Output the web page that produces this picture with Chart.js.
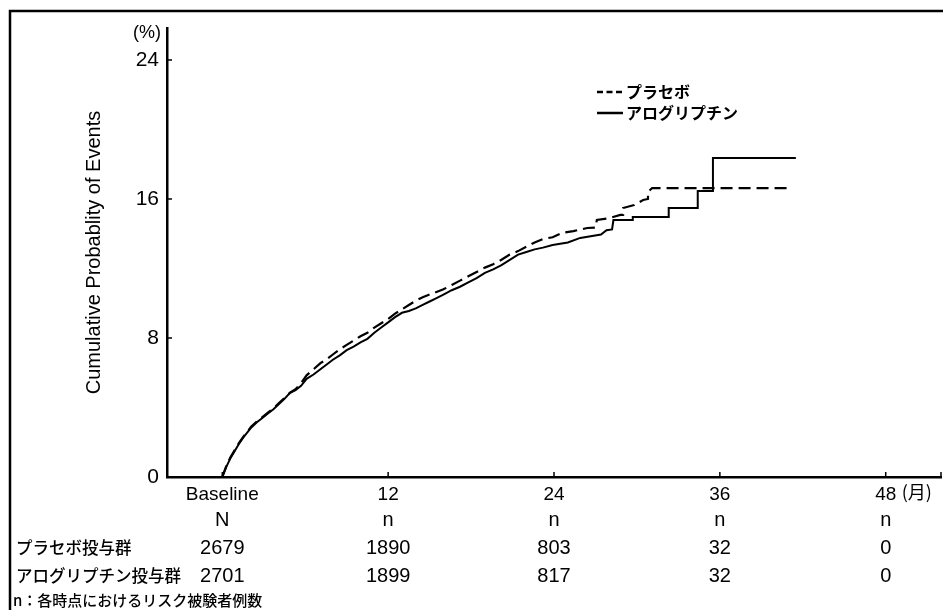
<!DOCTYPE html>
<html><head><meta charset="utf-8">
<script src="https://cdn.jsdelivr.net/npm/chart.js@4.4.1/dist/chart.umd.min.js"></script>
<style>html,body{margin:0;padding:0;background:#fff}#wrap{width:943px;height:610px;position:relative}</style>
</head><body><div id="wrap"><canvas id="c" width="943" height="610"></canvas></div>
<script>
// ---- data (months, cumulative %) ----
// vertical steps in the later part are listed as two points with the same month
const placeboMonths = [0,0.3,0.6,0.9,1.2,1.5,1.8,2.1,2.5,2.9,3.3,3.7,4.1,4.5,4.9,5.3,5.7,6.1,6.6,7.1,7.6,8.0,8.5,9.0,9.5,10.0,10.5,11.0,11.5,12.0,12.5,13.0,13.5,14.0,14.5,15.0,15.5,16.0,16.6,17.2,17.8,18.4,19.0,19.6,20.2,20.8,21.4,22.0,22.6,23.2,23.9,24.6,25.4,26.4,27.0,27.1,28.0,28.8,29.0,29.0,29.8,30.45,30.8,30.8,31.1,40.9];
const placeboValues = [0,0.65,1.15,1.55,1.95,2.3,2.6,2.9,3.2,3.45,3.7,3.95,4.25,4.55,4.85,5.05,5.4,5.85,6.2,6.55,6.8,7.05,7.35,7.6,7.85,8.1,8.3,8.6,8.85,9.1,9.4,9.65,9.9,10.15,10.35,10.5,10.65,10.8,11.05,11.3,11.55,11.8,12.05,12.25,12.5,12.8,13.0,13.25,13.5,13.7,13.8,14.05,14.15,14.33,14.35,14.79,14.9,15.08,15.08,15.48,15.65,15.94,16.0,16.4,16.63,16.63];
const alogMonths = [0,0.3,0.6,0.9,1.2,1.5,1.8,2.1,2.5,2.9,3.3,3.7,4.1,4.5,4.9,5.3,5.7,6.1,6.6,7.1,7.6,8.0,8.5,9.0,9.5,10.0,10.5,11.0,11.5,12.0,12.5,13.0,13.5,14.0,14.5,15.0,15.5,16.0,16.6,17.2,17.8,18.4,19.0,19.6,20.2,20.8,21.4,22.0,22.6,23.2,23.9,25.0,25.9,27.4,27.8,28.2,28.3,29.7,29.7,32.3,32.3,34.4,34.4,35.5,35.5,41.5];
const alogValues = [0,0.6,1.1,1.5,1.9,2.25,2.55,2.85,3.15,3.4,3.65,3.9,4.2,4.5,4.85,5.0,5.25,5.65,5.9,6.2,6.5,6.75,7.0,7.3,7.5,7.75,7.95,8.3,8.6,8.9,9.2,9.45,9.55,9.7,9.9,10.1,10.3,10.5,10.75,10.95,11.2,11.45,11.75,11.95,12.2,12.5,12.8,12.95,13.1,13.2,13.35,13.5,13.76,13.95,14.2,14.25,14.79,14.79,14.96,14.96,15.48,15.48,16.46,16.46,18.36,18.36];
const seriesNames = ['プラセボ','アログリプチン'];
const xTickValues = [0,12,24,36,48];
const xTickLabels = ['Baseline','12','24','36','48'];
const yTickValues = [0,8,16,24];
const yTitle = 'Cumulative Probablity of Events';
const tableHeader = ['N','n','n','n','n'];
const tableRowLabels = ['プラセボ投与群','アログリプチン投与群'];
const placeboAtRisk = [2679,1890,803,32,0];
const alogAtRisk = [2701,1899,817,32,0];
const footnote = 'n：各時点におけるリスク被験者例数';

const LAT = '"Liberation Sans", Arial, Helvetica, sans-serif';
const JP = '"Noto Sans CJK JP", "Noto Sans", sans-serif';

const toXY = (xs, ys) => xs.map((x, i) => ({x, y: ys[i]}));

const extras = {
  id: 'extras',
  afterDraw(chart) {
    const ctx = chart.ctx;
    const xs = chart.scales.x, ys = chart.scales.y;
    const area = chart.chartArea;
    ctx.save();
    // frame
    ctx.strokeStyle = '#000'; ctx.lineWidth = 2.5;
    ctx.beginPath(); ctx.moveTo(10, 610); ctx.lineTo(10, 11); ctx.lineTo(943, 11); ctx.stroke();
    // inward tick marks
    ctx.lineWidth = 1.5;
    yTickValues.forEach(v => { if (v === 0) return; const py = ys.getPixelForValue(v); ctx.beginPath(); ctx.moveTo(area.left, py); ctx.lineTo(area.left + 5, py); ctx.stroke(); });
    xTickValues.concat([xs.max]).forEach(v => { const px = xs.getPixelForValue(v); ctx.beginPath(); ctx.moveTo(px, area.bottom); ctx.lineTo(px, area.bottom - 5); ctx.stroke(); });
    // unit labels
    ctx.fillStyle = '#000';
    ctx.font = '18px ' + LAT; ctx.textAlign = 'center'; ctx.textBaseline = 'middle';
    ctx.fillText('(%)', area.left - 20, 33);
    const x48 = xs.getPixelForValue(48);
    ctx.font = '18px ' + JP; ctx.textAlign = 'left';
    ctx.fillText('(月)', x48 + 16, 492);
    // legend
    const lx = 597, ly = [92, 113];
    chart.data.datasets.forEach((ds, i) => {
      ctx.strokeStyle = '#000'; ctx.lineWidth = 2.5;
      ctx.setLineDash(i === 0 ? [6, 3.5] : []);
      ctx.beginPath(); ctx.moveTo(lx, ly[i]); ctx.lineTo(lx + 26, ly[i]); ctx.stroke();
      ctx.setLineDash([]);
      ctx.font = 'bold 16px ' + JP; ctx.textAlign = 'left'; ctx.textBaseline = 'middle';
      ctx.fillText(ds.label, lx + 29, ly[i]);
    });
    // at-risk table
    ctx.textBaseline = 'middle';
    const rowsY = [520, 548, 576];
    ctx.font = '20px ' + LAT; ctx.textAlign = 'center';
    xTickValues.forEach((v, i) => {
      const px = xs.getPixelForValue(v);
      ctx.fillText(tableHeader[i], px, rowsY[0]);
      ctx.fillText(String(placeboAtRisk[i]), px, rowsY[1]);
      ctx.fillText(String(alogAtRisk[i]), px, rowsY[2]);
    });
    ctx.font = '500 16.5px ' + JP; ctx.textAlign = 'left';
    ctx.fillText(tableRowLabels[0], 16, rowsY[1]);
    ctx.fillText(tableRowLabels[1], 16, rowsY[2]);
    ctx.font = '500 15px ' + JP;
    ctx.fillText(footnote, 13, 600);
    ctx.restore();
  }
};

new Chart(document.getElementById('c'), {
  type: 'line',
  data: {
    datasets: [
      { label: seriesNames[0], data: toXY(placeboMonths, placeboValues), borderColor: '#000', borderWidth: 2.2, borderDash: [12, 6], pointRadius: 0, fill: false, tension: 0 },
      { label: seriesNames[1], data: toXY(alogMonths, alogValues), borderColor: '#000', borderWidth: 2, pointRadius: 0, fill: false, tension: 0 }
    ]
  },
  options: {
    responsive: false, animation: false, devicePixelRatio: 1,
    layout: { padding: { top: 28, right: 2, bottom: 0, left: 0 } },
    plugins: { legend: { display: false }, tooltip: { enabled: false } },
    scales: {
      x: {
        type: 'linear', min: -4, max: 52,
        grid: { display: false, drawTicks: false },
        border: { display: true, color: '#000', width: 2.5 },
        afterBuildTicks: s => { s.ticks = xTickValues.map(v => ({ value: v })); },
        afterFit: s => { s.height = 133; },
        ticks: { color: '#000', padding: 6, maxRotation: 0, autoSkip: false,
          font: { family: LAT, size: 19 },
          callback: (v) => { const i = xTickValues.indexOf(v); return i >= 0 ? xTickLabels[i] : ''; } }
      },
      y: {
        min: 0, max: 25.84,
        grid: { display: false, drawTicks: false },
        border: { display: true, color: '#000', width: 2.5 },
        afterBuildTicks: s => { s.ticks = yTickValues.map(v => ({ value: v })); },
        afterFit: s => { s.width = 167; },
        ticks: { color: '#000', font: { family: LAT, size: 21 }, padding: 8 },
        title: { display: true, text: yTitle, color: '#000', font: { family: LAT, size: 20 }, padding: { top: 82, bottom: 0 } }
      }
    }
  },
  plugins: [extras]
});
</script></body></html>
